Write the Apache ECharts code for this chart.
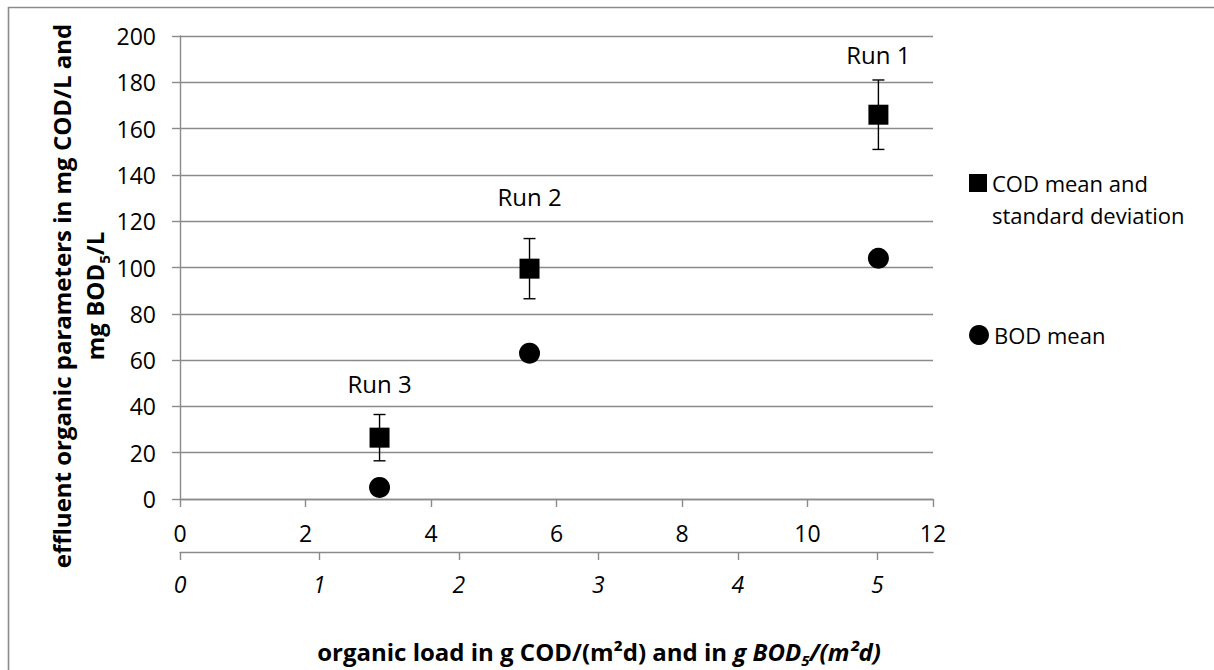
<!DOCTYPE html>
<html><head><meta charset="utf-8">
<script src="https://cdn.jsdelivr.net/npm/echarts@6/dist/echarts.min.js"></script>
<style>html,body{margin:0;padding:0;background:#fff}#c{width:1214px;height:670px}</style>
</head><body><div id="c"></div>
<script>
// ---- data ----
const runNames = ['Run 3', 'Run 2', 'Run 1'];
const codLoad = [3.18, 5.57, 11.13];          // g COD/(m²d)
const codMean = [26.5, 99.5, 166];            // mg COD/L
const codSd = [10, 13, 15];                   // standard deviation
const bodMean = [5, 63, 104];                 // mg BOD5/L
const runLabelValue = [49.7, 130.6, 191.8];   // y value of the run captions
const xTicks = [0, 2, 4, 6, 8, 10, 12];
const yTicks = [0, 20, 40, 60, 80, 100, 120, 140, 160, 180, 200];
const bodLoadTicks = [0, 1, 2, 3, 4, 5];      // g BOD5/(m²d)
const bodLoadMax = 5.40;
const seriesNames = ['COD mean and standard deviation', 'BOD mean'];

// ---- styling ----
const FONT = "'Open Sans', sans-serif";
const GRID = '#8a8a8a';
const chart = echarts.init(document.getElementById('c'), null, {renderer: 'svg'});

const axisLineStyle = {show: true, onZero: false, lineStyle: {color: GRID, width: 1.4}};
const tickStyle = {show: true, inside: false, length: 8, lineStyle: {color: GRID, width: 1.4}};

const option = {
  backgroundColor: '#fff',
  animation: false,
  grid: {left: 180, right: 281, top: 36, bottom: 171, containLabel: false},
  xAxis: [
    {
      type: 'value', min: xTicks[0], max: xTicks[xTicks.length - 1], interval: xTicks[1] - xTicks[0],
      position: 'bottom', axisLine: axisLineStyle, axisTick: tickStyle,
      axisLabel: {fontFamily: FONT, fontSize: 23, color: '#000', margin: 22},
      splitLine: {show: false}
    },
    {
      type: 'value', min: 0, max: bodLoadMax, position: 'bottom', offset: 53,
      axisLine: axisLineStyle,
      axisTick: Object.assign({}, tickStyle, {customValues: bodLoadTicks}),
      axisLabel: {customValues: bodLoadTicks, fontFamily: FONT, fontSize: 23, fontStyle: 'italic', color: '#000', margin: 20},
      splitLine: {show: false}
    }
  ],
  yAxis: {
    type: 'value', min: yTicks[0], max: yTicks[yTicks.length - 1], interval: yTicks[1] - yTicks[0],
    axisLine: axisLineStyle, axisTick: tickStyle,
    axisLabel: {fontFamily: FONT, fontSize: 23, color: '#000', margin: 24},
    splitLine: {show: true, lineStyle: {color: GRID, width: 1.4}}
  },
  legend: [
    {
      data: [{name: seriesNames[0], icon: 'rect', itemStyle: {opacity: 1, color: '#000'}}],
      left: 969, top: 135, padding: 0, itemWidth: 18, itemHeight: 18, selectedMode: false,
      formatter: () => '\nCOD mean and\nstandard deviation',
      textStyle: {fontFamily: FONT, fontSize: 22, color: '#000', lineHeight: 32}
    },
    {
      data: [{name: seriesNames[1], icon: 'circle', itemStyle: {opacity: 1, color: '#000'}}],
      left: 969, top: 319, padding: 0, itemWidth: 20, itemHeight: 20, selectedMode: false,
      textStyle: {fontFamily: FONT, fontSize: 22, color: '#000', lineHeight: 32}
    }
  ],
  graphic: [
    {
      type: 'rect', silent: true, z: -1,
      shape: {x: 8.5, y: 7.5, width: 1230, height: 700},
      style: {fill: 'none', stroke: '#8a8a8a', lineWidth: 1.6}
    },
    {
      type: 'text', silent: true,
      x: 78, y: 296, rotation: Math.PI / 2,
      style: {
        text: '{b|effluent organic parameters in mg COD/L and}\n{b|mg BOD}{s|5}{b|/L}',
        x: 0, y: 0, align: 'center', verticalAlign: 'middle',
        rich: {
          b: {fontFamily: FONT, fontWeight: 'bold', fontSize: 24, lineHeight: 33, fill: '#000'},
          s: {fontFamily: FONT, fontWeight: 'bold', fontSize: 15, lineHeight: 16, fill: '#000', verticalAlign: 'bottom'}
        }
      }
    },
    {
      type: 'text', silent: true,
      x: 599, y: 651,
      style: {
        text: '{b|organic load in g COD/(m²d) and in }{i|g BOD}{is|5}{i|/(m²d)}',
        x: 0, y: 0, align: 'center', verticalAlign: 'middle',
        rich: {
          b: {fontFamily: FONT, fontWeight: 'bold', fontSize: 24, lineHeight: 32, fill: '#000'},
          i: {fontFamily: FONT, fontWeight: 'bold', fontStyle: 'italic', fontSize: 24, lineHeight: 32, fill: '#000'},
          is: {fontFamily: FONT, fontWeight: 'bold', fontStyle: 'italic', fontSize: 15, lineHeight: 16, fill: '#000', verticalAlign: 'bottom'}
        }
      }
    }
  ],
  series: [
    {
      type: 'custom', name: 'COD standard deviation', xAxisIndex: 0, yAxisIndex: 0, z: 2, silent: true,
      data: codLoad.map((x, i) => [x, codMean[i] - codSd[i], codMean[i] + codSd[i]]),
      renderItem: function (params, api) {
        const lo = api.coord([api.value(0), api.value(1)]);
        const hi = api.coord([api.value(0), api.value(2)]);
        const half = 6;
        const st = {stroke: '#000', lineWidth: 1.4};
        return {
          type: 'group',
          children: [
            {type: 'line', shape: {x1: lo[0], y1: lo[1], x2: hi[0], y2: hi[1]}, style: st},
            {type: 'line', shape: {x1: lo[0] - half, y1: lo[1], x2: lo[0] + half, y2: lo[1]}, style: st},
            {type: 'line', shape: {x1: hi[0] - half, y1: hi[1], x2: hi[0] + half, y2: hi[1]}, style: st}
          ]
        };
      }
    },
    {
      type: 'scatter', name: seriesNames[0], symbol: 'rect', symbolSize: 20, z: 3,
      itemStyle: {color: '#000', opacity: 1},
      data: codLoad.map((x, i) => [x, codMean[i]])
    },
    {
      type: 'scatter', name: seriesNames[1], symbol: 'circle', symbolSize: 21, z: 3,
      itemStyle: {color: '#000', opacity: 1},
      data: codLoad.map((x, i) => [x, bodMean[i]])
    },
    {
      type: 'scatter', name: 'run captions', symbolSize: 0, z: 4, silent: true,
      itemStyle: {color: 'transparent', opacity: 1},
      label: {
        show: true, position: 'inside', fontFamily: FONT, fontSize: 24, color: '#000', opacity: 1,
        formatter: p => runNames[p.dataIndex]
      },
      data: codLoad.map((x, i) => [x, runLabelValue[i]])
    }
  ]
};
chart.setOption(option);
</script>
</body></html>
